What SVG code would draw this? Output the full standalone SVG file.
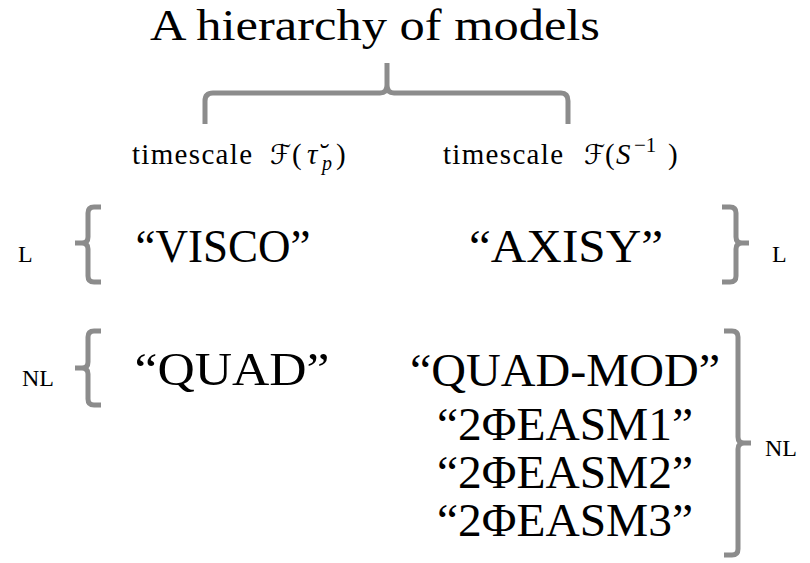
<svg xmlns="http://www.w3.org/2000/svg" width="810" height="563" viewBox="0 0 810 563">
<style>
.t{font-family:'Liberation Serif',serif;fill:#000}
.big{font-size:46px;text-anchor:middle}
.sm{font-size:29px}
.lab{font-size:24px}
.br{fill:none;stroke:#8c8c8c;stroke-width:5;stroke-linecap:butt;stroke-linejoin:round}
.m{font-style:italic}
.cal{font-family:'DejaVu Sans',sans-serif;font-style:normal}
</style>
<rect width="810" height="563" fill="#fff"/>
<g id="title">
<text class="t" x="375" y="40" font-size="44" text-anchor="middle" textLength="450" lengthAdjust="spacingAndGlyphs">A hierarchy of models</text>
</g>
<g id="connectors">
<path class="br" d="M205,124 V101 Q205,93 213,93 H380 Q387,93 387,85 V63 M387,85 Q387,93 394,93 H561 Q568,93 568,101 V124"/>
<path class="br" d="M101,207 H94 Q88,207 88,213 V237 Q88,243 82,243 H75 M82,243 Q88,243 88,249 V276 Q88,282 94,282 H101"/>
<path class="br" d="M722,207 H730 Q736,207 736,213 V237 Q736,243 742,243 H749 M742,243 Q736,243 736,249 V276 Q736,282 730,282 H722"/>
<path class="br" d="M101,331 H94 Q88,331 88,337 V362 Q88,368 82,368 H75 M82,368 Q88,368 88,374 V399 Q88,405 94,405 H101"/>
<path class="br" d="M724,331 H732 Q738,331 738,337 V437 Q738,443 744,443 H751 M744,443 Q738,443 738,449 V549 Q738,555 732,555 H724"/>
</g>
<g id="timescale1">
<text class="t sm" y="164"><tspan x="132" textLength="120">timescale</tspan><tspan class="cal" x="270" font-size="27">ℱ</tspan><tspan x="292">(</tspan><tspan class="m" x="307">τ̆</tspan><tspan class="m" x="322" y="170" font-size="20">p</tspan><tspan x="336" y="164">)</tspan></text>
</g>
<g id="timescale2">
<text class="t sm" y="164"><tspan x="443" textLength="120">timescale</tspan><tspan class="cal" x="584" font-size="27">ℱ</tspan><tspan x="605">(</tspan><tspan class="m" x="616">S</tspan><tspan x="634" y="152" font-size="21">−1</tspan><tspan x="668" y="164">)</tspan></text>
</g>
<g id="L-left"><text class="t lab" x="18" y="262">L</text></g>
<g id="L-right"><text class="t lab" x="772" y="262">L</text></g>
<g id="NL-left"><text class="t lab" x="22" y="386">NL</text></g>
<g id="NL-right"><text class="t lab" x="765" y="456">NL</text></g>
<g id="visco"><text class="t big" x="223" y="262" textLength="175" lengthAdjust="spacingAndGlyphs">“VISCO”</text></g>
<g id="axisy"><text class="t big" x="566" y="262" textLength="194" lengthAdjust="spacingAndGlyphs">“AXISY”</text></g>
<g id="quad"><text class="t big" x="232" y="385" textLength="195" lengthAdjust="spacingAndGlyphs">“QUAD”</text></g>
<g id="quadmod"><text class="t big" x="565" y="386" textLength="310" lengthAdjust="spacingAndGlyphs">“QUAD-MOD”</text></g>
<g id="easm1"><text class="t big" x="565" y="440" textLength="256" lengthAdjust="spacingAndGlyphs">“2ΦEASM1”</text></g>
<g id="easm2"><text class="t big" x="565" y="488" textLength="256" lengthAdjust="spacingAndGlyphs">“2ΦEASM2”</text></g>
<g id="easm3"><text class="t big" x="565" y="536" textLength="256" lengthAdjust="spacingAndGlyphs">“2ΦEASM3”</text></g>
</svg>
